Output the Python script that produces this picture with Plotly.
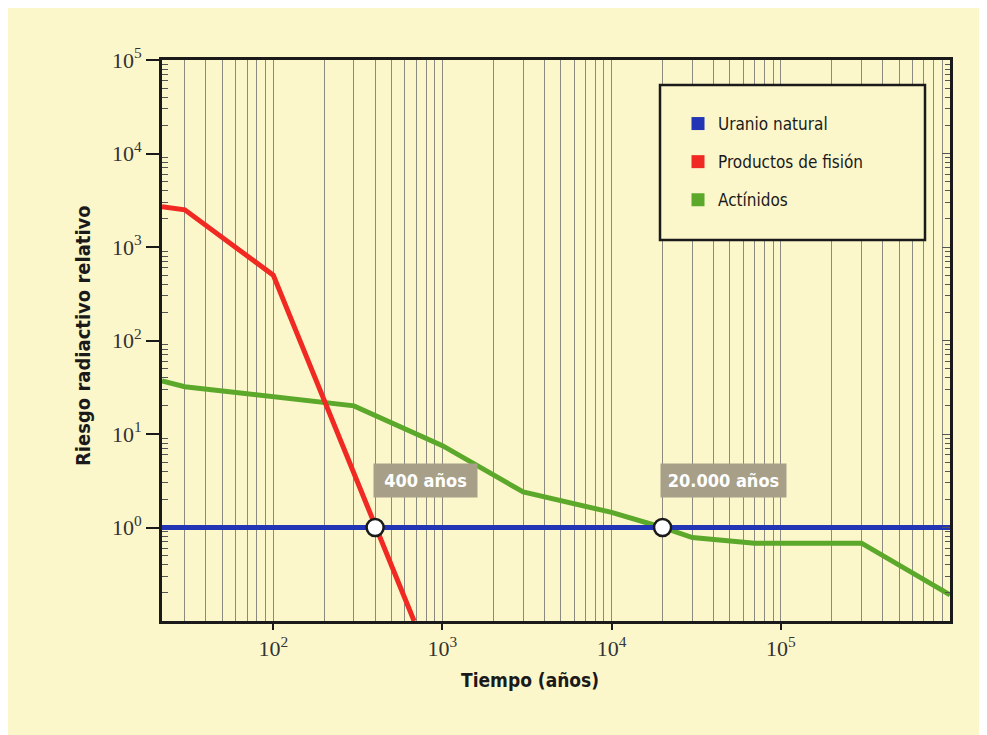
import numpy as np
import plotly.graph_objects as go

# ---- data ----
uranio_x = [22, 1_000_000]
uranio_y = [1, 1]

fision_x = [22, 30, 100, 400, 680]
fision_y = [2700, 2500, 500, 1, 0.1]

actinidos_x = [22, 30, 300, 1000, 3000, 10000, 20000, 30000, 70000, 300000, 1_000_000]
actinidos_y = [37, 32, 20, 7.5, 2.4, 1.45, 1.0, 0.78, 0.68, 0.68, 0.19]

cruce_x = [400, 20000]
cruce_y = [1, 1]
cruce_labels = ["400 años", "20.000 años"]

series_names = ["Uranio natural", "Productos de fisión", "Actínidos"]
series_colors = ["#2135B5", "#F02A22", "#5BA82A"]

x_major = [100, 1000, 10000, 100000]
x_major_text = ["10<sup>2</sup>", "10<sup>3</sup>", "10<sup>4</sup>", "10<sup>5</sup>"]
y_major = [1, 10, 100, 1000, 10000, 100000]
y_major_text = ["10<sup>0</sup>", "10<sup>1</sup>", "10<sup>2</sup>", "10<sup>3</sup>", "10<sup>4</sup>", "10<sup>5</sup>"]

x_minor = [m * 10 ** k for k in range(1, 6) for m in range(2, 10) if m * 10 ** k >= 22] + [1_000_000]
y_minor = [m * 10 ** k for k in range(-1, 5) for m in range(2, 10)]

BG = "#FCF7CB"
COND = "Liberation Sans Narrow, DejaVu Sans Condensed, Arial Narrow, sans-serif"
SERIF = "Liberation Serif, DejaVu Serif, serif"
INK = "#1a1a1a"

# page has an 8px body margin; plot area in page pixels:
OFF = 8
W, H = 987 - OFF, 735 - OFF
L, R, T, B = 162, 950, 60, 621
pw, ph = R - L, B - T


def px_x(p):
    return (p - L) / pw


def px_y(p):
    return (B - p) / ph


fig = go.Figure()

fig.add_trace(go.Scatter(x=actinidos_x, y=actinidos_y, mode="lines",
                         line=dict(color=series_colors[2], width=5), showlegend=False))
fig.add_trace(go.Scatter(x=uranio_x, y=uranio_y, mode="lines",
                         line=dict(color=series_colors[0], width=5), showlegend=False))
fig.add_trace(go.Scatter(x=fision_x, y=fision_y, mode="lines",
                         line=dict(color=series_colors[1], width=5), showlegend=False))
fig.add_trace(go.Scatter(x=cruce_x, y=cruce_y, mode="markers",
                         marker=dict(color="white", size=17, line=dict(color=INK, width=2.5)),
                         showlegend=False))
# carrier for the right-hand tick axis
fig.add_trace(go.Scatter(x=[None], y=[None], yaxis="y2", showlegend=False, hoverinfo="skip"))

# legend entries (square swatches)
for i, (name, col) in enumerate(zip(series_names, series_colors)):
    fig.add_trace(go.Scatter(x=[None], y=[None], mode="markers", name=name,
                             legendgroup=f"g{i}",
                             marker=dict(symbol="square", size=13, color=col)))

# legend box
fig.add_shape(type="rect", xref="paper", yref="paper",
              x0=px_x(660), x1=px_x(925), y0=px_y(240), y1=px_y(85),
              line=dict(color=INK, width=2.5), fillcolor=BG, layer="above")

# crossing labels
box_w = [103, 125]
for cx, lab, bw in zip(cruce_x, cruce_labels, box_w):
    fig.add_annotation(x=np.log10(cx) - 0.015, y=np.log10(3.2), text=f"<b>{lab}</b>",
                       xanchor="left", yanchor="middle", showarrow=False,
                       width=bw, height=33, align="center",
                       bgcolor="#A89F88", borderpad=0,
                       font=dict(family=COND, size=18, color="white"))

# axis titles
fig.add_annotation(x=px_x(530), y=px_y(680), xref="paper", yref="paper",
                   xanchor="center", yanchor="middle",
                   text="<b>Tiempo (años)</b>", showarrow=False,
                   font=dict(family=COND, size=19, color=INK))
fig.add_annotation(x=px_x(83), y=px_y(336), xref="paper", yref="paper",
                   xanchor="center", yanchor="middle",
                   text="<b>Riesgo radiactivo relativo</b>", showarrow=False, textangle=-90,
                   font=dict(family=COND, size=20, color=INK))

fig.update_xaxes(type="log", range=[np.log10(22), 6.0],
                 tickmode="array", tickvals=x_major, ticktext=x_major_text,
                 ticks="outside", ticklen=6, tickcolor=INK, tickwidth=1.5,
                 showgrid=True, gridcolor="#8a8a80", gridwidth=1,
                 minor=dict(tickmode="array", tickvals=x_minor, showgrid=True,
                            gridcolor="#8a8a80", gridwidth=1, ticks=""),
                 showline=True, linecolor=INK, linewidth=3, mirror=True,
                 zeroline=False,
                 tickfont=dict(family=SERIF, size=22, color="#333333"))

yaxis_common = dict(type="log", range=[-1, 5], zeroline=False, showgrid=False,
                    tickmode="array", tickvals=y_major)
fig.update_layout(
    yaxis=dict(**yaxis_common, ticktext=y_major_text,
               ticks="outside", ticklen=13, tickcolor=INK, tickwidth=1.5,
               minor=dict(tickmode="array", tickvals=y_minor, ticks="inside",
                          ticklen=6, tickcolor="#555555", tickwidth=1, showgrid=False),
               showline=True, linecolor=INK, linewidth=3, mirror=True,
               tickfont=dict(family=SERIF, size=22, color="#333333")),
    yaxis2=dict(**yaxis_common, overlaying="y", side="right", showticklabels=False,
                ticks="inside", ticklen=8, tickcolor="#555555", tickwidth=1,
                minor=dict(tickmode="array", tickvals=y_minor, ticks="inside",
                           ticklen=5, tickcolor="#555555", tickwidth=1, showgrid=False),
                showline=False),
)

fig.update_layout(
    width=W, height=H,
    margin=dict(l=L - OFF, r=W - (R - OFF), t=T - OFF, b=H - (B - OFF), pad=0),
    paper_bgcolor=BG, plot_bgcolor=BG,
    showlegend=True,
    legend=dict(x=px_x(678), y=px_y(106), xanchor="left", yanchor="top",
                bgcolor="rgba(0,0,0,0)", borderwidth=0,
                traceorder="grouped", tracegroupgap=13, itemwidth=30,
                font=dict(family=COND, size=17, color=INK)),
)

fig.write_html("out.html")
